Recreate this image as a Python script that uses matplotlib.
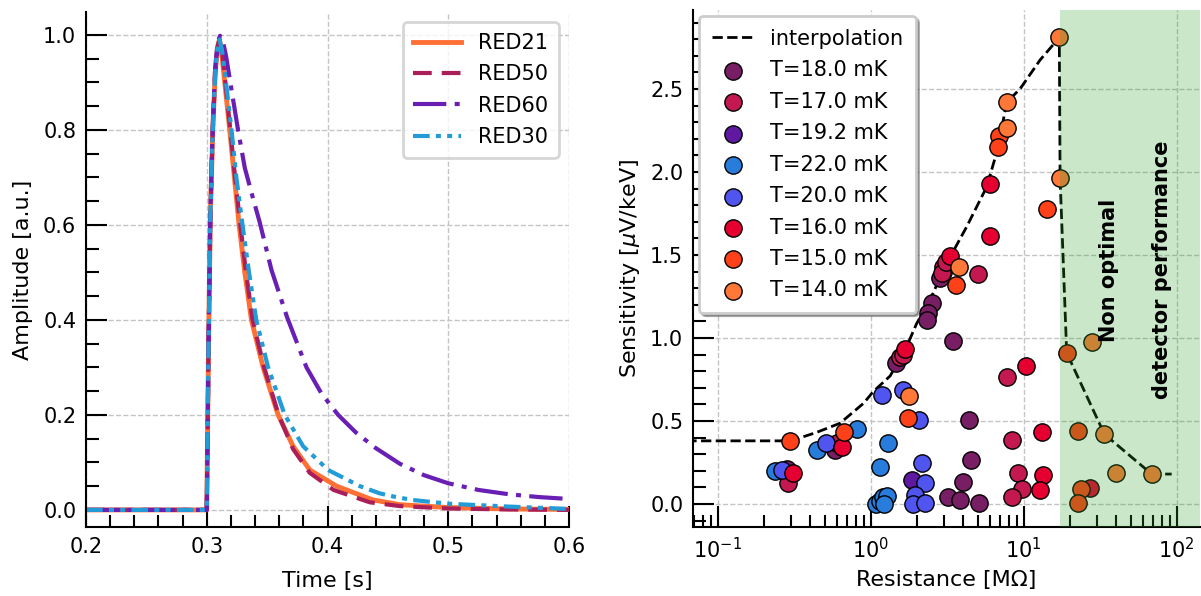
import matplotlib
matplotlib.use("Agg")
import matplotlib.pyplot as plt
from matplotlib.ticker import MultipleLocator, LogLocator
import numpy as np

# ---- left panel: normalised pulses ----
t_red21 = [0.200, 0.300, 0.3015, 0.303, 0.305, 0.307, 0.309, 0.3105, 0.312, 0.3145, 0.319, 0.3225,
           0.3268, 0.3315, 0.337, 0.3467, 0.3591, 0.3715, 0.3853, 0.4075, 0.4375, 0.460, 0.500, 0.550, 0.600]
a_red21 = [0.0, 0.0, 0.35, 0.62, 0.80, 0.92, 0.975, 0.99, 0.97, 0.91, 0.80, 0.71,
           0.60, 0.50, 0.40, 0.30, 0.20, 0.134, 0.084, 0.050, 0.021, 0.011, 0.005, 0.002, 0.001]

t_red50 = [0.200, 0.300, 0.3015, 0.303, 0.305, 0.307, 0.309, 0.3105, 0.3125, 0.315, 0.3195, 0.323,
           0.3278, 0.3325, 0.338, 0.3475, 0.3595, 0.3715, 0.3853, 0.405, 0.435, 0.460, 0.500, 0.550, 0.600]
a_red50 = [0.0, 0.0, 0.35, 0.62, 0.80, 0.92, 0.975, 0.99, 0.97, 0.91, 0.80, 0.71,
           0.60, 0.50, 0.40, 0.30, 0.20, 0.128, 0.078, 0.042, 0.016, 0.008, 0.003, 0.001, 0.0]

t_red60 = [0.200, 0.300, 0.3015, 0.303, 0.305, 0.307, 0.309, 0.311, 0.3135, 0.316, 0.3195, 0.3259,
           0.3315, 0.3384, 0.3439, 0.3536, 0.3666, 0.3826, 0.395, 0.4088, 0.4235, 0.440, 0.460, 0.480,
           0.500, 0.525, 0.550, 0.575, 0.600]
a_red60 = [0.0, 0.0, 0.35, 0.63, 0.81, 0.93, 0.985, 0.998, 0.985, 0.955, 0.90, 0.80,
           0.72, 0.655, 0.605, 0.505, 0.405, 0.30, 0.245, 0.20, 0.163, 0.130, 0.097, 0.073,
           0.056, 0.042, 0.033, 0.027, 0.023]

t_red30 = [0.200, 0.300, 0.3015, 0.303, 0.305, 0.307, 0.309, 0.3105, 0.3125, 0.315, 0.3205, 0.3245,
           0.3296, 0.335, 0.341, 0.3508, 0.3646, 0.3798, 0.4005, 0.4268, 0.443, 0.455, 0.470, 0.500, 0.550, 0.600]
a_red30 = [0.0, 0.0, 0.35, 0.62, 0.80, 0.92, 0.975, 0.99, 0.97, 0.92, 0.80, 0.70,
           0.60, 0.50, 0.40, 0.30, 0.20, 0.134, 0.084, 0.050, 0.035, 0.028, 0.021, 0.013, 0.007, 0.002]

# ---- right panel: sensitivity vs resistance ----
R_18 = [0.283, 0.584, 3.21, 3.83, 3.99, 4.52, 5.13, 4.41, 3.47, 2.50, 2.38, 2.32, 1.46, 2.95, 2.85]
S_18 = [0.209, 0.325, 0.040, 0.024, 0.135, 0.265, 0.004, 0.506, 0.982, 1.209, 1.149, 1.108, 0.847, 1.40, 1.36]

R_17 = [0.287, 0.60, 8.35, 9.23, 9.70, 8.35, 7.74, 1.554, 2.98, 2.91, 5.00, 1.62, 3.10]
S_17 = [0.128, 0.370, 0.386, 0.185, 0.0885, 0.040, 0.767, 0.887, 1.43, 1.39, 1.386, 0.90, 1.46]

R_192 = [1.85]
S_192 = [0.145]

R_22 = [0.237, 0.443, 0.817, 1.29, 1.15, 1.09, 1.15, 1.20, 1.27, 1.22]
S_22 = [0.200, 0.325, 0.450, 0.369, 0.221, 0.0, 0.020, 0.040, 0.050, 0.0]

R_20 = [0.262, 0.51, 1.18, 1.63, 2.08, 2.18, 2.26, 1.95, 1.90, 2.26]
S_20 = [0.205, 0.369, 0.657, 0.687, 0.506, 0.245, 0.125, 0.054, 0.0, 0.004]

R_16 = [0.309, 0.645, 13.1, 13.3, 12.8, 10.35, 6.03, 6.03, 3.30, 1.676, 27.1]
S_16 = [0.185, 0.345, 0.436, 0.175, 0.084, 0.831, 1.928, 1.614, 1.494, 0.932, 0.094]

R_15 = [0.297, 0.672, 1.745, 6.93, 6.82, 14.1, 3.61, 19.1, 22.7, 23.6, 22.7]
S_15 = [0.381, 0.436, 0.516, 2.217, 2.152, 1.775, 1.319, 0.908, 0.442, 0.0885, 0.008]

R_14 = [1.78, 17.1, 7.74, 7.74, 17.3, 3.79, 27.8, 33.7, 40.1, 68.6]
S_14 = [0.650, 2.811, 2.424, 2.263, 1.962, 1.430, 0.978, 0.422, 0.185, 0.181]

R_interp = [0.05, 0.30, 0.44, 0.63, 0.90, 1.04, 1.34, 1.68, 2.00, 2.44, 3.14, 4.24, 5.73, 6.82, 7.74,
            9.46, 12.8, 17.1, 17.3, 19.1, 33.7, 68.6, 92.7]
S_interp = [0.38, 0.38, 0.43, 0.486, 0.607, 0.677, 0.771, 0.928, 1.088, 1.229, 1.45, 1.67, 1.91, 2.15, 2.42,
            2.50, 2.675, 2.81, 1.96, 0.91, 0.42, 0.18, 0.18]

series = [
    ("T=18.0 mK", R_18, S_18, "#781e64"),
    ("T=17.0 mK", R_17, S_17, "#c31950"),
    ("T=19.2 mK", R_192, S_192, "#5f19a0"),
    ("T=22.0 mK", R_22, S_22, "#287ddc"),
    ("T=20.0 mK", R_20, S_20, "#5055f0"),
    ("T=16.0 mK", R_16, S_16, "#e60032"),
    ("T=15.0 mK", R_15, S_15, "#ff4119"),
    ("T=14.0 mK", R_14, S_14, "#ff7837"),
]

fig = plt.figure(figsize=(12.01, 5.96), dpi=100)
ax1 = fig.add_axes([86 / 1201, 1 - 527 / 596, (569 - 86) / 1201, (527 - 12) / 596])
ax2 = fig.add_axes([693 / 1201, 1 - 527 / 596, (1200 - 693) / 1201, (527 - 10) / 596])

for ax in (ax1, ax2):
    ax.spines['top'].set_visible(False)
    ax.spines['right'].set_visible(False)
    ax.spines['left'].set_linewidth(1.5)
    ax.spines['bottom'].set_linewidth(1.5)
    ax.tick_params(which='both', direction='in', width=1.5, labelsize=15, pad=7)
    ax.tick_params(which='major', length=15)
    ax.tick_params(which='minor', length=9)
    ax.grid(True, which='major', ls='--', color='#c4c4c4', lw=1)
    ax.set_axisbelow(True)

# left
ax1.plot(t_red21, a_red21, color='#ff7034', lw=3.5, label='RED21')
ax1.plot(t_red50, a_red50, color='#aa1e5a', lw=3, ls=(0, (4.5, 2.4)), label='RED50')
ax1.plot(t_red60, a_red60, color='#691eb4', lw=3, ls=(0, (8, 2, 1.2, 2)), label='RED60')
ax1.plot(t_red30, a_red30, color='#239bd7', lw=3, ls=(0, (4, 1.5, 1.2, 1.5, 1.2, 1.5)), label='RED30')
ax1.set_xlim(0.2, 0.6)
ax1.set_ylim(-0.036, 1.048)
ax1.xaxis.set_major_locator(MultipleLocator(0.1))
ax1.xaxis.set_minor_locator(MultipleLocator(0.02))
ax1.yaxis.set_major_locator(MultipleLocator(0.2))
ax1.yaxis.set_minor_locator(MultipleLocator(0.05))
ax1.set_xlabel('Time [s]', fontsize=16, labelpad=10)
ax1.set_ylabel('Amplitude [a.u.]', fontsize=16, labelpad=7.5)
leg1 = ax1.legend(loc='upper right', fontsize=15, handlelength=2.3, labelspacing=0.55, borderpad=0.5)
leg1.get_frame().set_linewidth(2)
leg1.get_frame().set_edgecolor('#cccccc')

# right
ax2.plot(R_interp, S_interp, 'k--', lw=2, label='interpolation', zorder=2)
for lab, R, S, c in series:
    ax2.scatter(R, S, s=155, color=c, edgecolors='k', linewidths=1, label=lab, zorder=2)
ax2.axvspan(17.27, 1000, color='#2ca02c', alpha=0.25, lw=0, zorder=3)
ax2.text(53.7, 1.41, 'Non optimal\ndetector performance', rotation=90, fontsize=15,
         fontweight='bold', ha='center', va='center', linespacing=3.1, zorder=4)
ax2.set_xscale('log')
ax2.set_xlim(0.069, 142)
ax2.set_ylim(-0.139, 2.976)
ax2.xaxis.set_major_locator(LogLocator(base=10))
ax2.xaxis.set_minor_locator(LogLocator(base=10, subs=np.arange(2, 10)))
ax2.yaxis.set_major_locator(MultipleLocator(0.5))
ax2.yaxis.set_minor_locator(MultipleLocator(0.1))
ax2.set_xlabel('Resistance [MΩ]', fontsize=16, labelpad=6)
ax2.set_ylabel(r'Sensitivity [$\mu$V/keV]', fontsize=16, labelpad=6)
leg2 = ax2.legend(loc='upper left', fontsize=15, shadow=True, borderaxespad=0.3, handlelength=2.0,
                  labelspacing=0.55, borderpad=0.6)
leg2.get_frame().set_linewidth(2)
leg2.get_frame().set_edgecolor('#cccccc')
leg2.set_zorder(6)

fig.savefig('out.png', dpi=100)
